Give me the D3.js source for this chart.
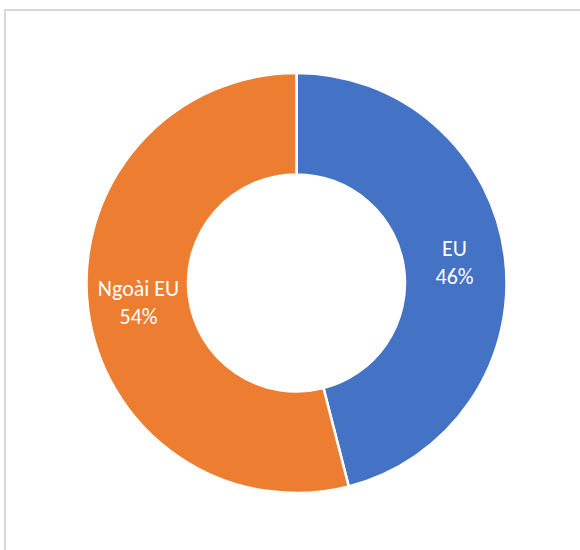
<!DOCTYPE html>
<html>
<head>
<meta charset="utf-8">
<script src="https://cdn.jsdelivr.net/npm/d3@7"></script>
<style>
  body { margin: 0; background: #fff; }
  svg { display: block; }
</style>
</head>
<body>
<script>
// chart data
var categories = ['EU', 'Ngoài EU'];
var shares = [46, 54];
var colors = ['#4472c4', '#ed7d31'];

var width = 580, height = 550;
var center = { x: 296.5, y: 283 };
var outerR = 210, innerR = 108.5;

var svg = d3.select('body').append('svg')
    .attr('width', width)
    .attr('height', height);

// chart frame (only top/left edges show in the crop)
svg.append('rect')
    .attr('x', 5).attr('y', 10)
    .attr('width', 600).attr('height', 600)
    .attr('fill', '#fff')
    .attr('stroke', '#d9d9d9')
    .attr('stroke-width', 2);

var data = categories.map(function (c, i) {
    return { name: c, value: shares[i], color: colors[i] };
});

var pie = d3.pie()
    .sort(null)
    .value(function (d) { return d.value; });

var arc = d3.arc()
    .innerRadius(innerR)
    .outerRadius(outerR);

var g = svg.append('g')
    .attr('transform', 'translate(' + center.x + ',' + center.y + ')');

var arcs = pie(data);

g.selectAll('path')
    .data(arcs)
    .enter().append('path')
    .attr('d', arc)
    .attr('fill', function (d) { return d.data.color; })
    .attr('stroke', '#fff')
    .attr('stroke-width', 2.5);

// labels sit at the middle of the ring
var labelArc = d3.arc()
    .innerRadius((innerR + outerR) / 2)
    .outerRadius((innerR + outerR) / 2);

var labels = g.selectAll('text')
    .data(arcs)
    .enter().append('text')
    .attr('transform', function (d) {
        var p = labelArc.centroid(d);
        return 'translate(' + p[0] + ',' + p[1] + ')';
    })
    .attr('text-anchor', 'middle')
    .attr('fill', '#fff')
    .style('font-family', 'Carlito, "Liberation Sans", Arial, sans-serif')
    .style('font-size', '22px');

labels.append('tspan')
    .attr('x', 0).attr('y', -7)
    .text(function (d) { return d.data.name; });

labels.append('tspan')
    .attr('x', 0).attr('y', 21)
    .text(function (d) { return d.data.value + '%'; });
</script>
</body>
</html>
